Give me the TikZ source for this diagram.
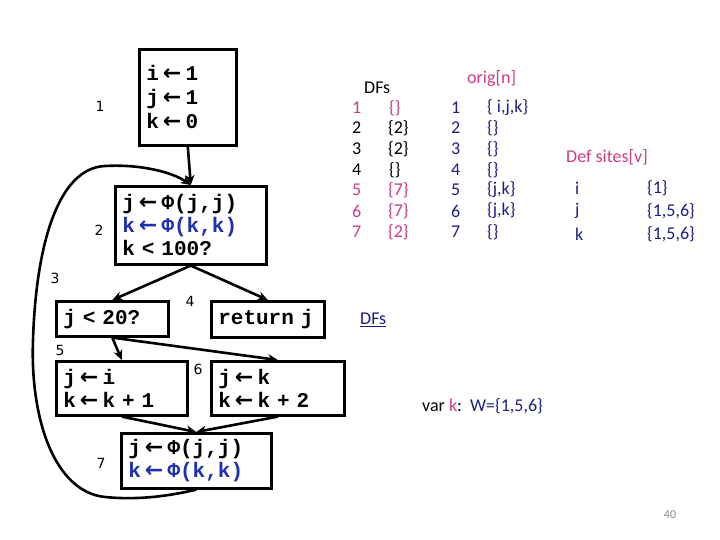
\documentclass[tikz,border=0pt]{standalone}
\usepackage{fontspec}
\setmainfont{Carlito}
\newfontfamily\codefont{Liberation Mono}
\newfontfamily\labfont{DejaVu Sans}
\usetikzlibrary{arrows.meta}
\definecolor{pinkc}{HTML}{CC3D86}
\definecolor{navyc}{HTML}{1F1F80}
\definecolor{codeblue}{HTML}{2030B0}
\definecolor{pagenum}{HTML}{8A8A8A}
\newcommand\codesel{\codefont\bfseries\fontsize{21}{23}\selectfont}
\newcommand\codeselwide{\codefont\bfseries\fontsize{21}{24}\selectfont}
\newcommand\la{\makebox[0.6em][c]{\labfont\bfseries\fontsize{22}{23}\selectfont ←}}
\tikzset{
  blk/.style={draw, line width=2.6pt, anchor=north west, inner xsep=7pt, inner ysep=0pt,
    align=left, font=\codesel},
  num/.style={font=\labfont\fontsize{14}{16}\selectfont, inner sep=0pt},
  txt/.style={font=\fontsize{18}{21}\selectfont, inner sep=0pt, anchor=west},
  conn/.style={line width=2.6pt, -{Stealth[length=10pt,width=9pt]}},
}
\begin{document}
\begin{tikzpicture}[x=1pt,y=-1pt]
\useasboundingbox (0,0) rectangle (720,540);
\fill[white] (0,0) rectangle (720,540);

% blocks
\node[blk, text width=83pt, minimum height=96pt, font=\codeselwide] (n1) at (138,48)
  {i \la{} 1\\j \la{} 1\\k \la{} 0};
\node[blk, text width=137pt, minimum height=78pt] (n2) at (114,185)
  {j \la{} Φ(j,j)\\\textcolor{codeblue}{k \la{} Φ(k,k)}\\k < 100?};
\node[blk, text width=98pt, minimum height=35pt] (jl) at (55,300) {j < 20?};
\node[blk, text width=99pt, minimum height=36pt] (rt) at (210,300) {return j};
\node[blk, text width=117pt, minimum height=54pt] (n5) at (55,360)
  {j \la{} i\\k \la{} k + 1};
\node[blk, text width=119pt, minimum height=54pt] (n6) at (210,360)
  {j \la{} k\\k \la{} k + 2};
\node[blk, text width=136pt, minimum height=55pt] (n7) at (120,432)
  {j \la{} Φ(j,j)\\\textcolor{codeblue}{k \la{} Φ(k,k)}};

% block labels
\node[num] (l1) at (100,106) {1};
\node[num] (l2) at (99,230) {2};
\node[num] (l3) at (55,278) {3};
\node[num] (l4) at (190,301) {4};
\node[num] (l5) at (60,350) {5};
\node[num] (l6) at (198,369) {6};
\node[num] (l7) at (101,463) {7};

% edges
\draw[conn] (n1.south) -- (n2.north);
\draw[conn] (n2.south) -- (jl.north);
\draw[conn] (n2.south) -- (rt.north);
\draw[conn] (jl.south) -- (n5.north);
\draw[conn] (jl.south) -- (n6.north);
\draw[conn] (n5.south) -- (n7.north);
\draw[conn] (n6.south) -- (n7.north);
\draw[conn] (n7.south) .. controls (165,497) and (135,500) .. (105,497)
  .. controls (55,492) and (30,420) .. (33,340)
  .. controls (36,245) and (58,168) .. (105,166)
  .. controls (140,164) and (172,172) .. (n2.north);

% DFs table
\node[txt] (dfh) at (364,88) {DFs};
\node[txt, text=pinkc] (d1) at (352,108) {1};
\node[txt] (d2) at (352,128) {2};
\node[txt] (d3) at (352,149) {3};
\node[txt] (d4) at (352,170) {4};
\node[txt, text=pinkc] (d5) at (352,190) {5};
\node[txt, text=pinkc] (d6) at (352,211) {6};
\node[txt, text=pinkc] (d7) at (352,232) {7};
\node[txt, text=pinkc] (s1) at (389,108) {\{\}};
\node[txt] (s2) at (388,128) {\{2\}};
\node[txt] (s3) at (388,149) {\{2\}};
\node[txt] (s4) at (389,170) {\{\}};
\node[txt, text=pinkc] (s5) at (388,190) {\{7\}};
\node[txt, text=pinkc] (s6) at (388,211) {\{7\}};
\node[txt, text=pinkc] (s7) at (388,232) {\{2\}};

% orig table
\node[txt, text=pinkc] (oh) at (467,79) {orig[n]};
\node[txt, text=navyc] (o1) at (451,108) {1};
\node[txt, text=navyc] (o2) at (451,128) {2};
\node[txt, text=navyc] (o3) at (451,149) {3};
\node[txt, text=navyc] (o4) at (451,170) {4};
\node[txt, text=navyc] (o5) at (451,190) {5};
\node[txt, text=navyc] (o6) at (451,211) {6};
\node[txt, text=navyc] (o7) at (451,232) {7};
\node[txt, text=navyc] (t1) at (487,108) {\{ i,j,k\}};
\node[txt, text=navyc] (t2) at (487,128) {\{\}};
\node[txt, text=navyc] (t3) at (487,149) {\{\}};
\node[txt, text=navyc] (t4) at (487,170) {\{\}};
\node[txt, text=navyc] (t5) at (487,190) {\{j,k\}};
\node[txt, text=navyc] (t6) at (487,211) {\{j,k\}};
\node[txt, text=navyc] (t7) at (487,232) {\{\}};

% Def sites
\node[txt, text=pinkc] (dsh) at (566,157) {Def sites[v]};
\node[txt, text=navyc] (vi) at (575,188) {i};
\node[txt, text=navyc] (vj) at (575,211) {j};
\node[txt, text=navyc] (vk) at (575,234) {k};
\node[txt, text=navyc] (wi) at (647,188) {\{1\}};
\node[txt, text=navyc] (wj) at (647,211) {\{1,5,6\}};
\node[txt, text=navyc] (wk) at (647,234) {\{1,5,6\}};

% DFs link and var line
\node[txt, text=navyc] (dfl) at (360,320) {\underline{DFs}};
\node[txt] (varl) at (422,406) {var \textcolor{pinkc}{k}:\ \ \textcolor{navyc}{W=\{1,5,6\}}};

\node[font=\fontsize{12}{14}\selectfont, text=pagenum, inner sep=0pt] (pg) at (670,515) {40};
\end{tikzpicture}
\end{document}
